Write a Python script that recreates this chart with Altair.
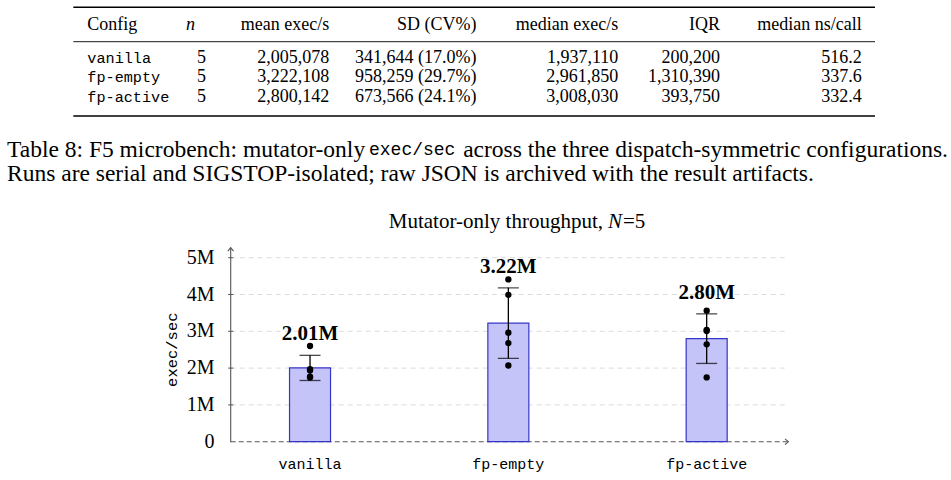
import altair as alt
import pandas as pd

# ---- summary table (mutator-only exec/sec, N=5 runs per configuration) ----
configs = ["vanilla", "fp-empty", "fp-active"]
n_runs = [5, 5, 5]
mean_exec = [2005078, 3222108, 2800142]
sd_exec = [341644, 958259, 673566]
cv_pct = [17.0, 29.7, 24.1]
median_exec = [1937110, 2961850, 3008030]
iqr_exec = [200200, 1310390, 393750]
median_ns_call = [516.2, 337.6, 332.4]

# ---- individual runs (exec/sec) ----
runs_vanilla = [2600000, 1970000, 1937110, 1770000, 1745000]
runs_fp_empty = [4410000, 3990000, 2961850, 2680000, 2070000]
runs_fp_active = [3560000, 3040000, 3008030, 2646000, 1747000]

y_ticks = [0, 1000000, 2000000, 3000000, 4000000, 5000000]
y_tick_labels = ["0", "1M", "2M", "3M", "4M", "5M"]

SERIF = "Liberation Serif"
MONO = "Liberation Mono"

W, H = 951, 480
ONE = alt.Data(values=[{}])

# ---------------------------------------------------------------- table
summary = pd.DataFrame({
    "config": configs,
    "n": [str(v) for v in n_runs],
    "mean": [f"{v:,}" for v in mean_exec],
    "sd": [f"{s:,} ({c:.1f}%)" for s, c in zip(sd_exec, cv_pct)],
    "median": [f"{v:,}" for v in median_exec],
    "iqr": [f"{v:,}" for v in iqr_exec],
    "ns": [f"{v:.1f}" for v in median_ns_call],
})

table_cols = [
    # field, header, align, header x, value x, value font
    ("config", "Config", "left", 87.3, 87.3, MONO),
    ("n", "n", "center", 190.5, 201.6, SERIF),
    ("mean", "mean exec/s", "right", 329.3, 329.3, SERIF),
    ("sd", "SD (CV%)", "right", 476.5, 476.5, SERIF),
    ("median", "median exec/s", "right", 618.3, 618.3, SERIF),
    ("iqr", "IQR", "right", 720.0, 720.0, SERIF),
    ("ns", "median ns/call", "right", 861.7, 861.7, SERIF),
]
header_y = 25.0
row_y = [58.3, 77.4, 96.6]

layers = []


def text_at(txt, x, y, size, font=SERIF, align="left", baseline="middle",
            weight="normal", style="normal", angle=0, color="black"):
    kw = dict(align=align, baseline=baseline, font=font, fontSize=size,
              fontWeight=weight, fontStyle=style, color=color)
    if angle:
        kw["angle"] = angle
    return alt.Chart(ONE).mark_text(**kw).encode(
        x=alt.value(x), y=alt.value(y), text=alt.value(txt))


def hline(x1, x2, y, width, color="black", dash=None):
    kw = dict(color=color, strokeWidth=width)
    if dash:
        kw["strokeDash"] = dash
    return alt.Chart(ONE).mark_rule(**kw).encode(
        x=alt.value(x1), x2=alt.value(x2), y=alt.value(y))


# booktabs rules
layers.append(hline(73.3, 875.0, 7.3, 1.6))
layers.append(hline(73.3, 875.0, 41.7, 0.9))
layers.append(hline(73.3, 875.0, 116.0, 1.6))

for field, head, align, hx, vx, vfont in table_cols:
    layers.append(text_at(head, hx, header_y, 18, align=align,
                          style="italic" if field == "n" else "normal"))
    for i, val in enumerate(summary[field]):
        layers.append(text_at(val, vx, row_y[i], 15.2 if vfont == MONO else 18,
                              font=vfont, align=align))

# ---------------------------------------------------------------- caption
cap_size = 23.5
layers.append(text_at("Table 8: F5 microbench: mutator-only", 7, 150, cap_size))
layers.append(text_at("exec/sec", 369, 150, 18, font=MONO))
layers.append(text_at("across the three dispatch-symmetric configurations.",
                      948, 150, cap_size, align="right"))
layers.append(text_at("Runs are serial and SIGSTOP-isolated; raw JSON is archived "
                      "with the result artifacts.", 7, 173.5, cap_size))

# ---------------------------------------------------------------- bar chart
Y0, Y5 = 441.7, 257.7
X_LEFT, X_RIGHT = 230.7, 786.0
yscale = alt.Scale(domain=[0, 5000000], range=[Y0, Y5], nice=False, zero=False)
xscale = alt.Scale(type="point", domain=configs, range=[X_LEFT, X_RIGHT],
                   padding=0.4)

bars = pd.DataFrame({
    "config": configs,
    "mean": mean_exec,
    "lo": [m - s for m, s in zip(mean_exec, sd_exec)],
    "hi": [m + s for m, s in zip(mean_exec, sd_exec)],
    "label": [f"{m / 1e6:.2f}M" for m in mean_exec],
})
runs = pd.DataFrame({
    "config": [c for c, r in zip(configs, [runs_vanilla, runs_fp_empty, runs_fp_active])
               for _ in r],
    "value": runs_vanilla + runs_fp_empty + runs_fp_active,
})
ticks = pd.DataFrame({"v": y_ticks, "lab": y_tick_labels})

X = alt.X("config:N", scale=xscale, axis=None)

# dashed horizontal grid
layers.append(
    alt.Chart(ticks[ticks.v > 0]).mark_rule(color="#dcdcdc", strokeWidth=1,
                                            strokeDash=[5, 4])
    .encode(y=alt.Y("v:Q", scale=yscale, axis=None),
            x=alt.value(X_LEFT), x2=alt.value(X_RIGHT))
)
# x axis (dashed baseline)
layers.append(
    alt.Chart(ticks[ticks.v == 0]).mark_rule(color="#555555", strokeWidth=1.1,
                                             strokeDash=[5, 3])
    .encode(y=alt.Y("v:Q", scale=yscale, axis=None),
            x=alt.value(X_LEFT), x2=alt.value(X_RIGHT + 2))
)
# mean bars
layers.append(
    alt.Chart(bars).mark_bar(size=41, fill="#c4c4f8", stroke="#3535c8",
                             strokeWidth=1.2)
    .encode(x=X, y=alt.Y("mean:Q", scale=yscale, axis=None))
)
# +/- 1 SD error bars
layers.append(
    alt.Chart(bars).mark_rule(color="black", strokeWidth=1.3)
    .encode(x=X, y=alt.Y("lo:Q", scale=yscale, axis=None), y2="hi:Q")
)
for end in ["lo", "hi"]:
    layers.append(
        alt.Chart(bars).mark_tick(orient="horizontal", size=21, thickness=1.3,
                                  color="black")
        .encode(x=X, y=alt.Y(f"{end}:Q", scale=yscale, axis=None))
    )
# individual runs
layers.append(
    alt.Chart(runs).mark_circle(size=40, color="black", opacity=1)
    .encode(x=X, y=alt.Y("value:Q", scale=yscale, axis=None))
)
# mean labels
layers.append(
    alt.Chart(bars).mark_text(font=SERIF, fontSize=21, fontWeight="bold",
                              baseline="alphabetic", dy=-15, color="black")
    .encode(x=X, y=alt.Y("hi:Q", scale=yscale, axis=None), text="label:N")
)
# category labels
layers.append(
    alt.Chart(bars).mark_text(font=MONO, fontSize=15, baseline="middle",
                              color="black")
    .encode(x=X, y=alt.value(463.5), text="config:N")
)
# y axis line, ticks and labels
layers.append(
    alt.Chart(ONE).mark_rule(color="#555555", strokeWidth=1.1)
    .encode(x=alt.value(X_LEFT), y=alt.value(Y0 + 0.5), y2=alt.value(248.2))
)
layers.append(
    alt.Chart(ticks[ticks.v > 0]).mark_rule(color="#555555", strokeWidth=1)
    .encode(y=alt.Y("v:Q", scale=yscale, axis=None),
            x=alt.value(X_LEFT - 2.5), x2=alt.value(X_LEFT + 2.5))
)
layers.append(
    alt.Chart(ticks).mark_text(font=SERIF, fontSize=20, align="right",
                               baseline="middle", color="black", dx=0)
    .encode(y=alt.Y("v:Q", scale=yscale, axis=None), x=alt.value(214.5),
            text="lab:N")
)
# arrow heads on both axes
layers.append(
    alt.Chart(ONE).mark_point(shape="M -0.9 1.1 Q -0.3 0.35 0 0 Q 0.3 0.35 0.9 1.1",
                              size=40, filled=False, stroke="#555555",
                              strokeWidth=1.1, opacity=1)
    .encode(x=alt.value(X_LEFT), y=alt.value(247.7))
)
layers.append(
    alt.Chart(ONE).mark_point(shape="M -1.1 -0.9 Q -0.35 -0.3 0 0 Q -0.35 0.3 -1.1 0.9",
                              size=40, filled=False, stroke="#555555",
                              strokeWidth=1.1, opacity=1)
    .encode(x=alt.value(X_RIGHT + 2.5), y=alt.value(Y0))
)
# y title
layers.append(text_at("exec/sec", 172, 349.7, 15.5, font=MONO, align="center",
                      angle=270))
# chart title
layers.append(text_at("Mutator-only throughput,", 603, 227.5, 21,
                      align="right", baseline="alphabetic"))
layers.append(text_at("N", 608, 227.5, 21, style="italic", baseline="alphabetic"))
layers.append(text_at("=5", 623, 227.5, 21, baseline="alphabetic"))

chart = (
    alt.layer(*layers)
    .properties(width=W, height=H, autosize=alt.AutoSizeParams(type="none"),
                padding=0, background="white")
    .configure_view(stroke=None)
)

chart.save("out.html", embed_options={"renderer": "svg", "actions": False})
